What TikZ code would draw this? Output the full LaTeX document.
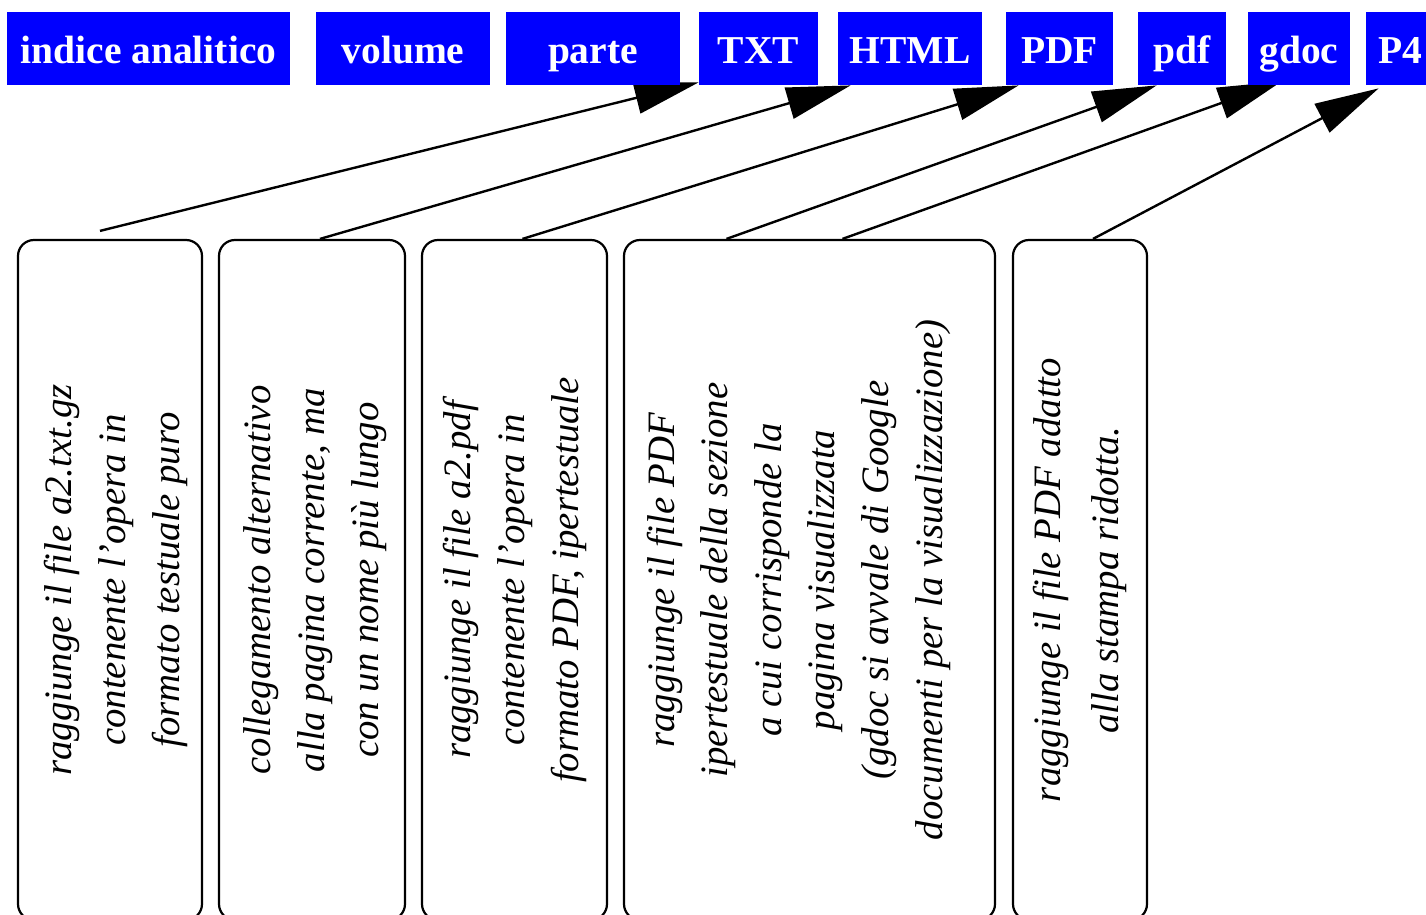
\documentclass[tikz,border=0pt]{standalone}
\usepackage{fontspec}
\setmainfont{Liberation Serif}
\usetikzlibrary{arrows.meta, calc, backgrounds}
\definecolor{labblue}{RGB}{0,0,255}

\tikzset{
  lab/.style={fill=labblue, text=white, font=\fontsize{19.75}{24}\selectfont\bfseries,
    minimum height=36.5pt, inner sep=0pt, text height=16pt, text depth=0.5pt},
  card/.style={draw, line width=1.1pt, rounded corners=8pt, minimum height=340pt, inner sep=0pt},
  desc/.style={rotate=90, align=center, inner sep=0pt, font=\fontsize{19.4}{#1}\selectfont\itshape},
  desc/.default=27pt,
  link/.style={line width=1.2pt, -{Triangle[length=32pt,width=16pt]}}
}

\begin{document}
\begin{tikzpicture}[x=0.5pt, y=-0.5pt]
\useasboundingbox (0,0) rectangle (1426,915);
\clip (0,0) rectangle (1426,915);

% Buttons in the top bar
\node[lab, minimum width=141.5pt] (idx) at (148.5,48.5) {indice analitico};
\node[lab, minimum width=87pt] (vol) at (403,48.5) {volume};
\node[lab, minimum width=87pt] (parte) at (593,48.5) {parte};
\node[lab, minimum width=59.5pt] (txt) at (758.5,48.5) {TXT};
\node[lab, minimum width=72pt] (html) at (910,48.5) {HTML};
\node[lab, minimum width=53.5pt] (pdfu) at (1059.5,48.5) {PDF};
\node[lab, minimum width=44pt] (pdfl) at (1182,48.5) {pdf};
\node[lab, minimum width=51pt] (gdoc) at (1299,48.5) {gdoc};
\node[lab, minimum width=34pt] (p4) at (1400,48.5) {P4};

% Description cards
\node[card, minimum width=92pt] (b1) at (110,580) {};
\node[card, minimum width=93pt] (b2) at (312,580) {};
\node[card, minimum width=92.5pt] (b3) at (514.5,580) {};
\node[card, minimum width=185.5pt] (b4) at (809.5,580) {};
\node[card, minimum width=67pt] (b5) at (1080,580) {};

\node[desc] (t1) at ($(b1.center)+(6,0)$) {raggiunge il file a2.txt.gz\\contenente l'opera in\\formato testuale puro};
\node[desc] (t2) at ($(b2.center)+(3,0)$) {collegamento alternativo\\alla pagina corrente, ma\\con un nome più lungo};
\node[desc] (t3) at (b3.center) {raggiunge il file a2.pdf\\contenente l'opera in\\formato PDF, ipertestuale};
\node[desc=26.8pt] (t4) at ($(b4.center)+(-11,0)$) {raggiunge il file PDF\\ipertestuale della sezione\\a cui corrisponde la\\pagina visualizzata\\(gdoc si avvale di Google\\documenti per la visualizzazione)};
\node[desc=29pt] (t5) at (b5.center) {raggiunge il file PDF adatto\\alla stampa ridotta.};

% Arrows, under the buttons
\begin{scope}[on background layer]
\draw[link] ($(b1.north)+(-10,-8)$) -- ($(txt.south west)+(0,-3)$);
\draw[link] ($(b2.north)+(8,0)$) -- ($(html.south west)+(13,0)$);
\draw[link] ($(b3.north)+(8,0)$) -- ($(pdfu.south west)+(13,0)$);
\draw[link] ($(b4.north)+(-83,0)$) -- ($(pdfl.south west)+(19,0)$);
\draw[link] ($(b4.north)+(33,0)$) -- ($(gdoc.south west)+(34,-4)$);
\draw[link] ($(b5.north)+(13,0)$) -- ($(p4.south west)+(13,3)$);
\end{scope}
\end{tikzpicture}
\end{document}
